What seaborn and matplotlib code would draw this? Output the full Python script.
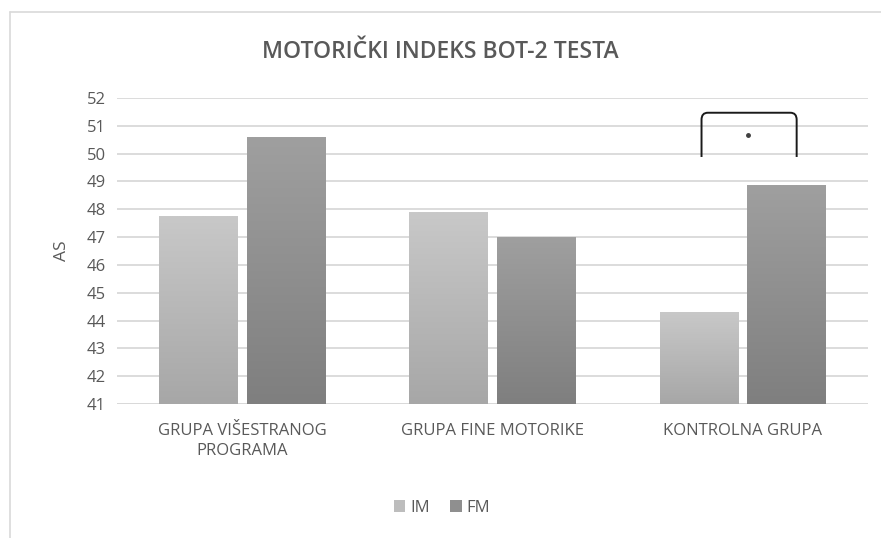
import numpy as np
import pandas as pd
import matplotlib
matplotlib.use("Agg")
import matplotlib.pyplot as plt
import seaborn as sns
from matplotlib.path import Path
from matplotlib.patches import PathPatch, Patch
from matplotlib.colors import LinearSegmentedColormap

# ---- data ----
categories = ["GRUPA VIŠESTRANOG\nPROGRAMA", "GRUPA FINE MOTORIKE", "KONTROLNA GRUPA"]
series_names = ["IM", "FM"]
im_values = [47.73, 47.9, 44.3]
fm_values = [50.57, 47.0, 48.84]
y_ticks = list(range(41, 53))
title = "MOTORIČKI INDEKS BOT-2 TESTA"
y_label = "AS"
sig_group = 2
sig_low = 49.88
sig_high = 51.47
sig_mark = 50.68

df = pd.DataFrame({
    "grupa": categories * 2,
    "serija": [series_names[0]] * 3 + [series_names[1]] * 3,
    "AS": im_values + fm_values,
})

sns.set_theme(style="white")
plt.rcParams['font.family'] = ['Open Sans', 'DejaVu Sans']

fig = plt.figure(figsize=(8.81, 5.38), dpi=100)
ax = fig.add_axes([117/881, 1 - 404/538, (868 - 117)/881, (404 - 98)/538])

y_min, y_max = y_ticks[0], y_ticks[-1]
colors = {"IM": "#bdbdbd", "FM": "#8f8f8f"}
grads = {"IM": ("#c8c8c8", "#a7a7a7"), "FM": ("#9f9f9f", "#7f7f7f")}
sns.barplot(data=df, x="grupa", y="AS", hue="serija", palette=colors,
            width=0.7, gap=0.1, ax=ax, legend=False, saturation=1)

ax.set_ylim(y_min, y_max)
ax.set_xlim(-0.5, 2.5)
ax.set_yticks(y_ticks)
ax.yaxis.grid(True, color="#d9d9d9", linewidth=1.3)
ax.set_axisbelow(True)
for s in ax.spines.values():
    s.set_visible(False)
ax.axhline(y_min, color="#d9d9d9", linewidth=1.3, zorder=0.5)

# gradient fill of bars (visible part only)
bars = [p for p in ax.patches]
for i, p in enumerate(bars):
    key = series_names[i // 3]
    top, bot = grads[key]
    cmap = LinearSegmentedColormap.from_list("g", [bot, top])
    x0 = p.get_x()
    w = p.get_width()
    ytop = p.get_y() + p.get_height()
    grad = np.linspace(0, 1, 100).reshape(-1, 1)
    ax.imshow(grad, extent=[x0, x0 + w, y_min, ytop], origin="lower",
              cmap=cmap, aspect="auto", zorder=2)
    p.set_visible(False)
ax.set_xlim(-0.5, 2.5)
ax.set_ylim(y_min, y_max)

ax.tick_params(axis="both", length=0, labelsize=12, colors="#595959", pad=8)
ax.tick_params(axis="x", pad=14)
for lbl in ax.get_xticklabels():
    lbl.set_fontsize(12)
    lbl.set_linespacing(1.3)
ax.set_xlabel("")
ax.set_ylabel(y_label, fontsize=12.5, color="#595959", labelpad=12)

fig.text(0.5, 1 - 52/538, title, ha="center", va="center",
         fontsize=16.5, color="#595959", fontweight="semibold")

# significance bracket
xl = sig_group - 0.165
xr = sig_group + 0.215
r_x, r_y = 0.025, 0.25
verts = [(xl, sig_low), (xl, sig_high - r_y), (xl, sig_high), (xl + r_x, sig_high),
         (xr - r_x, sig_high), (xr, sig_high), (xr, sig_high - r_y), (xr, sig_low)]
codes = [Path.MOVETO, Path.LINETO, Path.CURVE3, Path.CURVE3,
         Path.LINETO, Path.CURVE3, Path.CURVE3, Path.LINETO]
ax.add_patch(PathPatch(Path(verts, codes), fill=False, edgecolor="#1a1a1a",
                       linewidth=1.4, zorder=5, clip_on=False))
ax.plot([sig_group + 0.02], [sig_mark], marker="o", markersize=2.5,
        color="#404040", zorder=5)

# legend
handles = [Patch(facecolor=colors[s], edgecolor="none", label=s) for s in series_names]
fig.legend(handles=handles, loc="center", bbox_to_anchor=(442/881, 1 - 508/538),
           ncol=2, frameon=False, fontsize=12, handlelength=0.7, handleheight=0.7,
           handletextpad=0.3, columnspacing=1.2, labelcolor="#595959")

# outer frame
fig.add_artist(plt.Line2D([10/881, 10/881], [0, 1 - 12/538], transform=fig.transFigure,
                          color="#d9d9d9", linewidth=1.2))
fig.add_artist(plt.Line2D([10/881, 1], [1 - 12/538, 1 - 12/538], transform=fig.transFigure,
                          color="#d9d9d9", linewidth=1.2))

fig.savefig("out.png", dpi=100)
